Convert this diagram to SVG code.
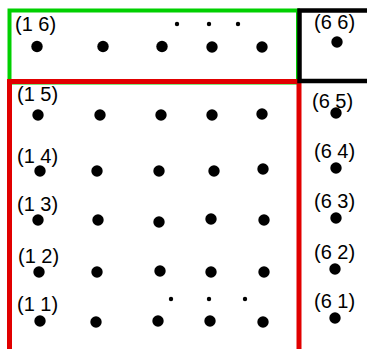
<svg xmlns="http://www.w3.org/2000/svg" width="367" height="349" viewBox="0 0 367 349">
<style>
.lbl{font-family:"Liberation Sans",Arial,sans-serif;font-size:20px;fill:#000}
.dot{fill:#000}
.box{fill:none}
</style>
<defs>
<circle id="d" r="5.7"/>
<circle id="s" r="2.2"/>
</defs>
<rect width="367" height="349" fill="#fff"/>
<g id="frames">
<rect class="box" x="9.5" y="10.5" width="288.5" height="72" stroke="#00d000" stroke-width="4"/>
<rect class="box" x="9.5" y="81.5" width="289.5" height="300" stroke="#e10000" stroke-width="5"/>
<rect class="box" x="299.5" y="10.5" width="100" height="70.5" stroke="#000" stroke-width="4.5"/>
</g>
<g id="connectors"></g>
<g id="row6" class="dot">
<g id="p16"><text class="lbl" x="15" y="31">(1 6)</text><use href="#d" x="37" y="46.5"/></g>
<use href="#d" x="103" y="46.5"/><use href="#d" x="162" y="46.5"/><use href="#d" x="212" y="47"/><use href="#d" x="262" y="47"/>
<use href="#s" x="177" y="24"/><use href="#s" x="209" y="24"/><use href="#s" x="238" y="24"/>
<g id="p66"><text class="lbl" x="314" y="29">(6 6)</text><use href="#d" x="337" y="42"/></g>
</g>
<g id="row5" class="dot">
<g id="p15"><text class="lbl" x="17" y="101">(1 5)</text><use href="#d" x="38" y="115"/></g>
<use href="#d" x="100" y="115"/><use href="#d" x="161" y="115"/><use href="#d" x="212" y="115"/><use href="#d" x="262" y="114"/>
<g id="p65"><text class="lbl" x="312" y="108">(6 5)</text><use href="#d" x="336" y="113"/></g>
</g>
<g id="row4" class="dot">
<g id="p14"><text class="lbl" x="17" y="163">(1 4)</text><use href="#d" x="40" y="171"/></g>
<use href="#d" x="97" y="171"/><use href="#d" x="159" y="171"/><use href="#d" x="214" y="171"/><use href="#d" x="263" y="169"/>
<g id="p64"><text class="lbl" x="314" y="158">(6 4)</text><use href="#d" x="336" y="168"/></g>
</g>
<g id="row3" class="dot">
<g id="p13"><text class="lbl" x="17" y="211">(1 3)</text><use href="#d" x="38" y="220"/></g>
<use href="#d" x="98" y="220"/><use href="#d" x="159" y="222"/><use href="#d" x="211" y="219"/><use href="#d" x="264" y="220"/>
<g id="p63"><text class="lbl" x="314" y="208">(6 3)</text><use href="#d" x="336" y="218"/></g>
</g>
<g id="row2" class="dot">
<g id="p12"><text class="lbl" x="18" y="263">(1 2)</text><use href="#d" x="39" y="272"/></g>
<use href="#d" x="97" y="272"/><use href="#d" x="160" y="271"/><use href="#d" x="211" y="272"/><use href="#d" x="264" y="272"/>
<g id="p62"><text class="lbl" x="314" y="259">(6 2)</text><use href="#d" x="335" y="269"/></g>
</g>
<g id="row1" class="dot">
<g id="p11"><text class="lbl" x="17" y="311">(1 1)</text><use href="#d" x="40" y="321"/></g>
<use href="#d" x="96" y="322"/><use href="#d" x="158" y="321"/><use href="#d" x="210" y="321"/><use href="#d" x="263" y="322"/>
<use href="#s" x="171" y="299"/><use href="#s" x="209" y="299"/><use href="#s" x="245" y="299"/>
<g id="p61"><text class="lbl" x="314" y="308">(6 1)</text><use href="#d" x="335" y="318"/></g>
</g>
</svg>
